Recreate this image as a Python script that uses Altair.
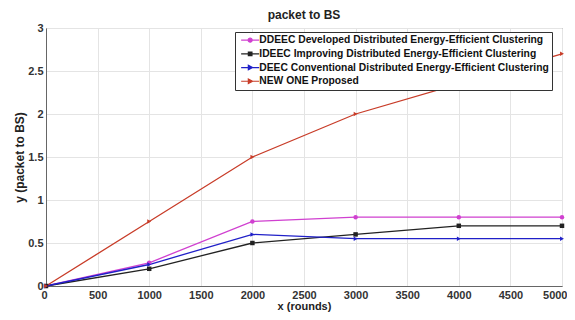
import altair as alt
import pandas as pd

rounds = [0, 1000, 2000, 3000, 4000, 5000]
series_names = [
    "DDEEC Developed Distributed Energy-Efficient Clustering",
    "IDEEC Improving Distributed Energy-Efficient Clustering",
    "DEEC Conventional Distributed Energy-Efficient Clustering",
    "NEW ONE Proposed",
]
ddeec = [0, 0.27, 0.75, 0.80, 0.80, 0.80]
ideec = [0, 0.20, 0.50, 0.60, 0.70, 0.70]
deec = [0, 0.25, 0.60, 0.55, 0.55, 0.55]
newone = [0, 0.75, 1.50, 2.00, 2.35, 2.70]

colors = ["#d040d0", "#222222", "#2020c8", "#c83c28"]
shapes = ["circle", "square", "triangle-right", "triangle-right"]
legend_shapes = [
    "M-4.5,0H-1M1,0H4.5M-1,0A1,1 0 1,1 1,0A1,1 0 1,1 -1,0Z",
    "M-4.5,0H-0.9M0.9,0H4.5M-0.9,-0.9H0.9V0.9H-0.9Z",
    "M-4.5,0H-0.9M1.2,0H4.5M-0.9,-1.1L1.2,0L-0.9,1.1Z",
    "M-4.5,0H-0.9M1.2,0H4.5M-0.9,-1.1L1.2,0L-0.9,1.1Z",
]

rows = []
for name, vals in zip(series_names, [ddeec, ideec, deec, newone]):
    for x, y in zip(rounds, vals):
        rows.append({"x": x, "y": y, "series": name})
df = pd.DataFrame(rows)

font = "Liberation Sans"

xenc = alt.X("x:Q", scale=alt.Scale(domain=[0, 5000], nice=False),
             axis=alt.Axis(title="x (rounds)", values=list(range(0, 5001, 500)),
                           format="d", grid=True, labelFlush=True, labelFlushOffset=5,
                           labelPadding=3, titlePadding=0, titleFontSize=11))
yenc = alt.Y("y:Q", scale=alt.Scale(domain=[0, 3], nice=False),
             axis=alt.Axis(title="y (packet to BS)", values=[0, 0.5, 1, 1.5, 2, 2.5, 3],
                           format="~g", grid=True, labelFlush=False, labelPadding=3,
                           titlePadding=1))

cscale = alt.Scale(domain=series_names, range=colors)

lines = alt.Chart(df).mark_line(strokeWidth=1.3).encode(
    x=xenc, y=yenc,
    color=alt.Color("series:N", scale=cscale, legend=None),
    detail="series:N",
)

points = alt.Chart(df).mark_point(filled=True, size=20, opacity=1).encode(
    x="x:Q", y="y:Q",
    color=alt.Color("series:N", scale=cscale, legend=None),
    shape=alt.Shape("series:N", scale=alt.Scale(domain=series_names, range=shapes), legend=None),
)

leg = alt.Chart(df).transform_filter("datum.x < 0").mark_point(opacity=1, strokeWidth=1.2).encode(
    x="x:Q", y="y:Q",
    fill=alt.Fill("series:N", scale=alt.Scale(domain=series_names, range=colors), title=None,
                  legend=alt.Legend(orient="none", legendX=189, legendY=4)),
    stroke=alt.Stroke("series:N", scale=alt.Scale(domain=series_names, range=colors), title=None),
    shape=alt.Shape("series:N", scale=alt.Scale(domain=series_names, range=legend_shapes), title=None),
)

chart = alt.layer(lines, points, leg).resolve_scale(
    color="independent", shape="independent", fill="independent", stroke="independent"
).properties(
    width=516, height=258,
    title=alt.TitleParams("packet to BS", font=font, fontSize=12, fontWeight="bold",
                          color="#222", anchor="middle", offset=0),
    autosize=alt.AutoSizeParams(type="none"),
    padding={"left": 38, "top": 20, "right": 5, "bottom": 26},
).configure_view(
    stroke="#666", strokeWidth=1
).configure_axis(
    labelFont=font, labelFontSize=11, labelFontWeight="bold", labelColor="#333",
    titleFont=font, titleFontSize=12, titleFontWeight="bold", titleColor="#222",
    gridColor="#e4e4e4", gridWidth=1, domainColor="#666", ticks=False,
).configure_legend(
    labelFont=font, labelFontSize=10.3, labelFontWeight="bold", labelColor="#111",
    labelLimit=400,
    fillColor="white", strokeColor="#333", padding=3, rowPadding=2.7,
    symbolSize=16, symbolStrokeWidth=1.2, labelOffset=4, symbolOffset=7,
)

chart.save("out.html", embed_options={"renderer": "svg", "actions": False})
